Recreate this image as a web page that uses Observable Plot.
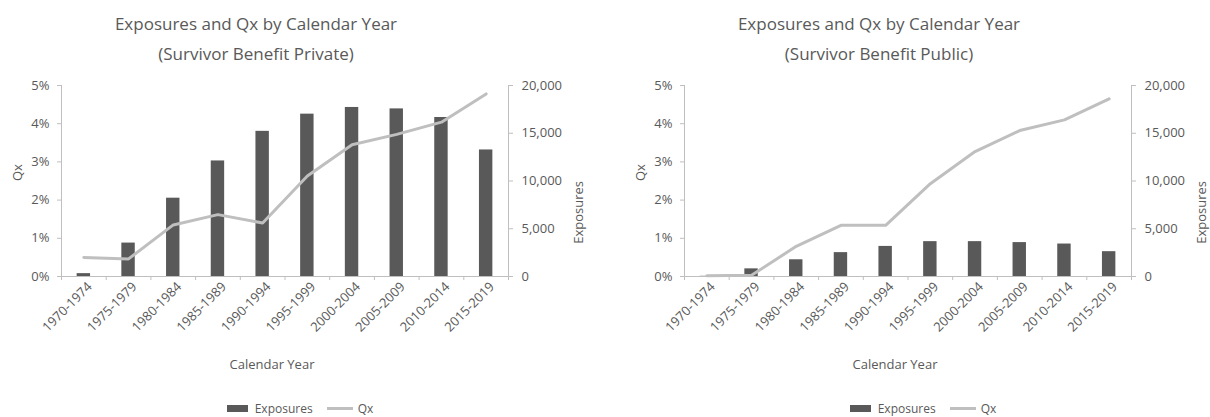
<!DOCTYPE html>
<html>
<head>
<meta charset="utf-8">
<script src="https://cdn.jsdelivr.net/npm/d3@7"></script>
<script src="https://cdn.jsdelivr.net/npm/@observablehq/plot@0.6"></script>
<style>
  body { margin: 0; background: #fff; font-family: "Open Sans", sans-serif; color: #595959; }
  #wrap { position: relative; width: 1210px; height: 417px; overflow: hidden; }
  .chart { position: absolute; top: 0; width: 587px; height: 417px; }
  .title { position: absolute; top: 9px; left: 0; width: 512px; text-align: center; font-size: 17px; line-height: 30px; }
  .plot { position: absolute; top: 70px; left: 0; }
  .xlabel { position: absolute; top: 355px; left: 172px; width: 200px; text-align: center; font-size: 13px; }
  .legend { position: absolute; top: 400px; left: 150px; width: 300px; display: flex; justify-content: center; align-items: center; font-size: 12px; }
  .legend .bar { width: 21px; height: 7px; background: #595959; margin-right: 7px; }
  .legend .line { width: 26px; height: 3px; background: #bfbfbf; margin: 0 5px 0 14px; }
</style>
</head>
<body>
<div id="wrap"></div>
<script>
// Calendar-year periods shared by both charts
const periods = ["1970-1974", "1975-1979", "1980-1984", "1985-1989", "1990-1994",
                 "1995-1999", "2000-2004", "2005-2009", "2010-2014", "2015-2019"];

// Survivor Benefit Private
const privateExposures = [300, 3500, 8200, 12100, 15200, 17000, 17700, 17550, 16650, 13250];
const privateQx = [0.0050, 0.0046, 0.0135, 0.0162, 0.0140, 0.0263, 0.0345, 0.0372, 0.0404, 0.0478];

// Survivor Benefit Public
const publicExposures = [20, 800, 1750, 2500, 3150, 3650, 3650, 3550, 3400, 2600];
const publicQx = [0.0002, 0.0003, 0.0079, 0.0134, 0.0134, 0.0243, 0.0327, 0.0382, 0.0410, 0.0465];

// Axis ticks
const qxTicks = [0, 0.01, 0.02, 0.03, 0.04, 0.05];
const exposureTicks = [0, 5000, 10000, 15000, 20000];

const barColor = "#595959";
const lineColor = "#bfbfbf";
const axisColor = "#bfbfbf";
const textColor = "#595959";

function drawChart(subtitle, exposures, qx, left) {
  const chart = document.createElement("div");
  chart.className = "chart";
  chart.style.left = left + "px";

  const title = document.createElement("div");
  title.className = "title";
  title.innerHTML = "Exposures and Qx by Calendar Year<br>(" + subtitle + ")";
  chart.appendChild(title);

  const n = periods.length;
  const rows = periods.map((period, i) => ({i, period, exposures: exposures[i], qx: qx[i]}));

  // Exposures share the Qx y scale through a linear mapping (secondary axis)
  const toQx = d3.scaleLinear([0, exposureTicks[exposureTicks.length - 1]], [0, qxTicks[qxTicks.length - 1]]);

  const svg = Plot.plot({
    width: 587,
    height: 280,
    marginTop: 15,
    marginLeft: 61,
    marginRight: 79,
    marginBottom: 74,
    style: {fontFamily: "Open Sans, sans-serif", fontSize: "13px", color: textColor, background: "transparent", overflow: "visible"},
    x: {domain: [0, n], axis: null},
    y: {domain: [0, qxTicks[qxTicks.length - 1]], axis: null},
    marks: [
      Plot.rectY(rows, {x1: d => d.i + 0.35, x2: d => d.i + 0.65, y1: 0, y2: d => toQx(d.exposures), fill: barColor}),
      Plot.ruleX([0, n], {stroke: axisColor}),
      Plot.ruleY([0], {stroke: axisColor}),
      Plot.line(rows, {x: d => d.i + 0.5, y: "qx", stroke: lineColor, strokeWidth: 3, strokeLinejoin: "round", strokeLinecap: "round"}),
      // left axis: Qx
      Plot.axisY(qxTicks, {anchor: "left", tickSize: 4, tickPadding: 8, tickFormat: d3.format(".0%"), stroke: axisColor, fill: textColor, label: null}),
      // right axis: Exposures
      Plot.axisY(exposureTicks.map(toQx), {anchor: "right", tickSize: 4, tickPadding: 9, tickFormat: v => d3.format(",")(Math.round(toQx.invert(v))), stroke: axisColor, fill: textColor, label: null}),
      // category boundary ticks
      Plot.axisX(d3.range(n + 1), {anchor: "bottom", tickSize: 4, tickFormat: () => "", stroke: axisColor, label: null}),
      // category labels
      Plot.axisX(d3.range(n).map(i => i + 0.5), {anchor: "bottom", tickSize: 0, tickPadding: 8, dx: 6, tickRotate: -45, tickFormat: v => periods[Math.floor(v)], fill: textColor, label: null}),
      Plot.text(["Qx"], {frameAnchor: "left", dx: -44, rotate: -90, fill: textColor, fontSize: 13}),
      Plot.text(["Exposures"], {frameAnchor: "right", dx: 70, rotate: -90, fill: textColor, fontSize: 13})
    ]
  });
  svg.classList.add("plot");
  chart.appendChild(svg);

  const xlabel = document.createElement("div");
  xlabel.className = "xlabel";
  xlabel.textContent = "Calendar Year";
  chart.appendChild(xlabel);

  const legend = document.createElement("div");
  legend.className = "legend";
  legend.innerHTML = '<span class="bar"></span><span>Exposures</span><span class="line"></span><span>Qx</span>';
  chart.appendChild(legend);

  document.getElementById("wrap").appendChild(chart);
}

drawChart("Survivor Benefit Private", privateExposures, privateQx, 0);
drawChart("Survivor Benefit Public", publicExposures, publicQx, 623);
</script>
</body>
</html>
